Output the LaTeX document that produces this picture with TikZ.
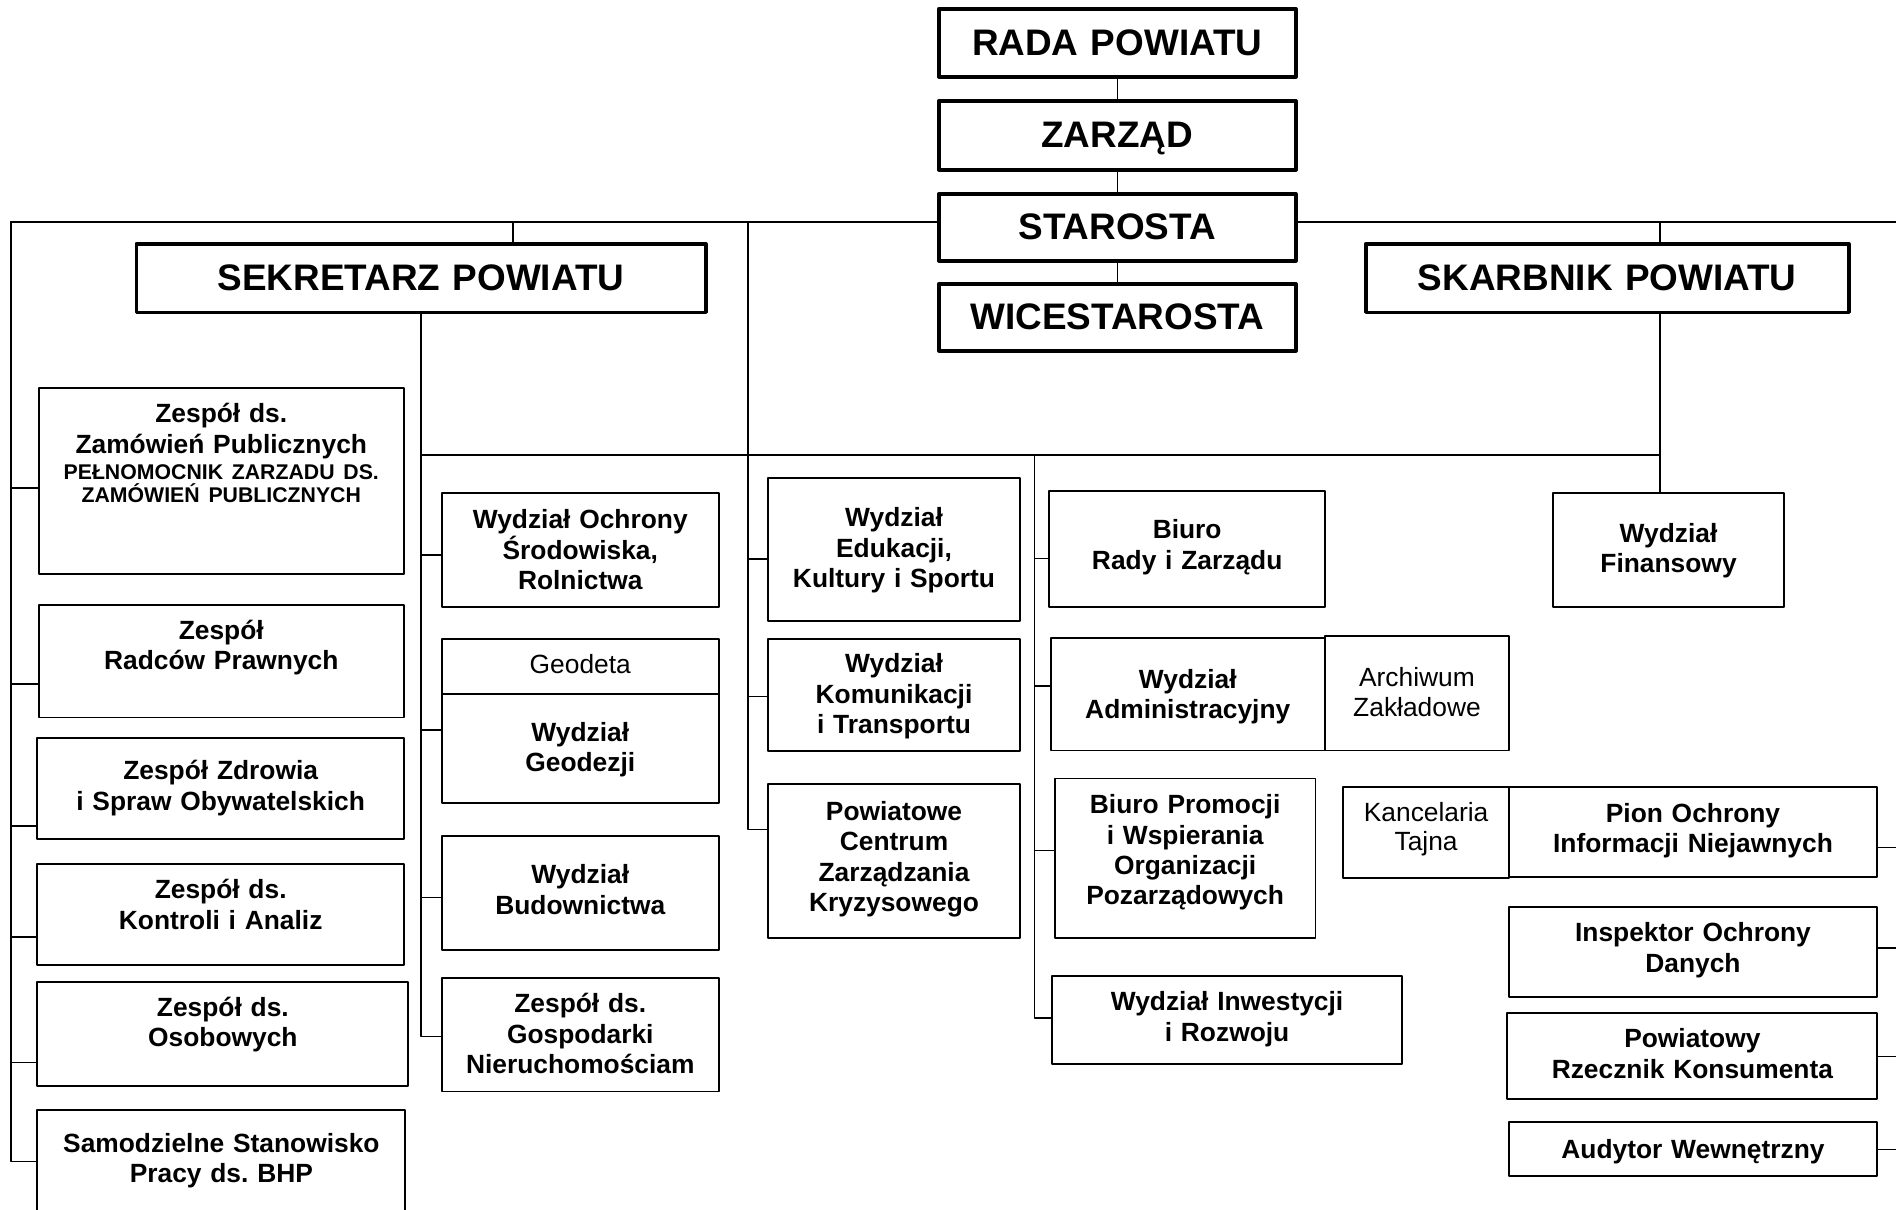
\documentclass[tikz,border=0pt]{standalone}
\usepackage{fontspec}
\setmainfont{Liberation Sans}
\frenchspacing

\newcommand{\headfont}{\fontsize{21}{25}\selectfont\bfseries}
\newcommand{\unitfont}{\fontsize{15}{17.3}\selectfont\bfseries}
\newcommand{\smallunitfont}{\fontsize{12.1}{13.5}\selectfont\bfseries}
\newcommand{\plainfont}{\fontsize{15}{16.8}\selectfont}

\tikzset{
	cell/.style n args={3}{draw, line width=1.1pt, anchor=north west, inner sep=0pt, align=center,
		text width=#1*0.2mm, text height=#3*0.2mm, text depth=(#2-#3)*0.2mm, font=\unitfont},
	head/.style n args={3}{cell={#1}{#2}{#3}, line width=2pt, font=\headfont},
	side/.style n args={3}{cell={#1}{#2}{#3}, font=\plainfont},
}

\begin{document}
\begin{tikzpicture}[x=0.2mm, y=-0.2mm, line width=0.85pt, line cap=round, line join=round]
	\useasboundingbox (0,0) rectangle (1896,1209);

	% kierownictwo
	\node[head={357}{68}{46.5}] (rada) at (937,7) {RADA POWIATU};
	\node[head={357}{69}{47}] (zarzad) at (937,99) {ZARZĄD};
	\node[head={357}{67}{46}] (starosta) at (937,192) {STAROSTA};
	\node[head={357}{67}{46}] (wice) at (937,282) {WICESTAROSTA};
	\node[head={569.5}{68.5}{47}] (sekretarz) at (134.5,242) {SEKRETARZ POWIATU};
	\node[head={483}{68.5}{47}] (skarbnik) at (1364,242) {SKARBNIK POWIATU};

	% zespoly po lewej
	\node[cell={365.4}{186}{35}] (zamowien) at (37.6,387) {Zespół ds.\\Zamówień Publicznych\\[-2.4pt]{\smallunitfont PEŁNOMOCNIK ZARZADU DS.}\\[-4.3pt]{\smallunitfont ZAMÓWIEŃ PUBLICZNYCH}};
	\node[cell={365.4}{112.5}{34.5}] (radcow) at (37.6,604) {Zespół\\Radców Prawnych};
	\node[cell={366.6}{101}{42}] (zdrowia) at (36.4,737) {Zespół Zdrowia\\i Spraw Obywatelskich};
	\node[cell={366.6}{101}{35}] (kontroli) at (36.4,863) {Zespół ds.\\Kontroli i Analiz};
	\node[cell={371}{104}{35}] (osobowych) at (36.4,980.6) {Zespół ds.\\Osobowych};
	\node[cell={368}{110}{42.5}] (bhp) at (36.4,1108.7) {Samodzielne Stanowisko\\Pracy ds. BHP};

	% wydzialy sekretarza
	\node[cell={276.6}{113.8}{36}] (ochrony) at (441,492) {Wydział Ochrony\\Środowiska,\\Rolnictwa};
	\node[side={276.6}{55.5}{35}] (geodeta) at (441,637.7) {Geodeta};
	\node[cell={276.6}{108.8}{47.4}] (geodezji) at (441,693.2) {Wydział\\Geodezji};
	\node[cell={276.6}{113.4}{47.4}] (budownictwa) at (441,835.3) {Wydział\\Budownictwa};
	\node[cell={276.6}{113.8}{35}] (gospodarki) at (441,976.7) {Zespół ds.\\Gospodarki\\Nieruchomościam};

	\node[cell={252.7}{143}{49}] (edukacji) at (766.7,477) {Wydział\\Edukacji,\\Kultury i Sportu};
	\node[cell={252.7}{112.6}{34}] (komunikacji) at (766.7,637.7) {Wydział\\Komunikacji\\i Transportu};
	\node[cell={252.7}{153.4}{36}] (pczk) at (766.7,783.3) {Powiatowe\\Centrum\\Zarządzania\\Kryzysowego};

	\node[cell={275.6}{115.8}{48}] (biurorady) at (1048.4,490) {Biuro\\Rady i Zarządu};
	\node[cell={274.4}{112.6}{50.5}] (administracja) at (1049.6,636.9) {Wydział\\Administracyjny};
	\node[side={184}{114.5}{51}] (archiwum) at (1324,635) {Archiwum\\Zakładowe};
	\node[cell={260.7}{159.2}{35.3}] (promocja) at (1053.8,777.5) {Biuro Promocji\\i Wspierania\\Organizacji\\Pozarządowych};
	\node[cell={350.6}{88.5}{35}] (inwestycje) at (1050.8,974.8) {Wydział Inwestycji\\i Rozwoju};

	\node[cell={230.5}{113.8}{49.5}] (finansowy) at (1552.3,492) {Wydział\\Finansowy};

	% stanowiska po prawej
	\node[side={165.7}{91}{34}] (kancelaria) at (1342.3,786.4) {Kancelaria\\Tajna};
	\node[cell={368}{90}{36}] (pion) at (1508,785.6) {Pion Ochrony\\Informacji Niejawnych};
	\node[cell={368}{90}{35}] (inspektor) at (1508,906) {Inspektor Ochrony\\Danych};
	\node[cell={370}{86.2}{35}] (rzecznik) at (1506.4,1011.7) {Powiatowy\\Rzecznik Konsumenta};
	\node[cell={368}{53.8}{36.3}] (audytor) at (1508,1121) {Audytor Wewnętrzny};

	\coordinate (ltop) at (11,222);
	\coordinate (rtop) at (1902,222);
	\coordinate (sdrop) at (513,222);
	\coordinate (etop) at (748,222);
	\coordinate (kdrop) at (1660,222);
	\coordinate (btop) at (1034.5,455);

	% polaczenia
	\foreach \a/\b in {rada/zarzad, zarzad/starosta, starosta/wice}
		\draw (\a) -- (\b);
	\draw (ltop) -- (ltop -| starosta.west);
	\draw (starosta.east |- rtop) -- (rtop);
	\draw (sdrop) -- (sdrop |- sekretarz.north);
	\draw (kdrop) -- (kdrop |- skarbnik.north);
	\draw (kdrop |- skarbnik.south) -- (kdrop |- finansowy.north);
	\draw (sekretarz.south |- btop) -- (kdrop |- btop);

	\foreach \n/\d in {zamowien/101, radcow/80, zdrowia/89, kontroli/74, osobowych/82, bhp/53}
		\draw ([yshift=-\d*0.2mm]\n.north west) -| (ltop);
	\foreach \n/\d in {ochrony/63, geodezji/37, budownictwa/62, gospodarki/60}
		\draw ([yshift=-\d*0.2mm]\n.north west) -| (sekretarz.south);
	\foreach \n/\d in {edukacji/82, komunikacji/59, pczk/46}
		\draw ([yshift=-\d*0.2mm]\n.north west) -| (etop);
	\foreach \n/\d in {biurorady/68.5, administracja/49, promocja/73, inwestycje/43}
		\draw ([yshift=-\d*0.2mm]\n.north west) -| (btop);
	\foreach \n/\d in {pion/62, inspektor/42, rzecznik/45, audytor/28.5}
		\draw ([yshift=-\d*0.2mm]\n.north east) -| (rtop);
\end{tikzpicture}
\end{document}
